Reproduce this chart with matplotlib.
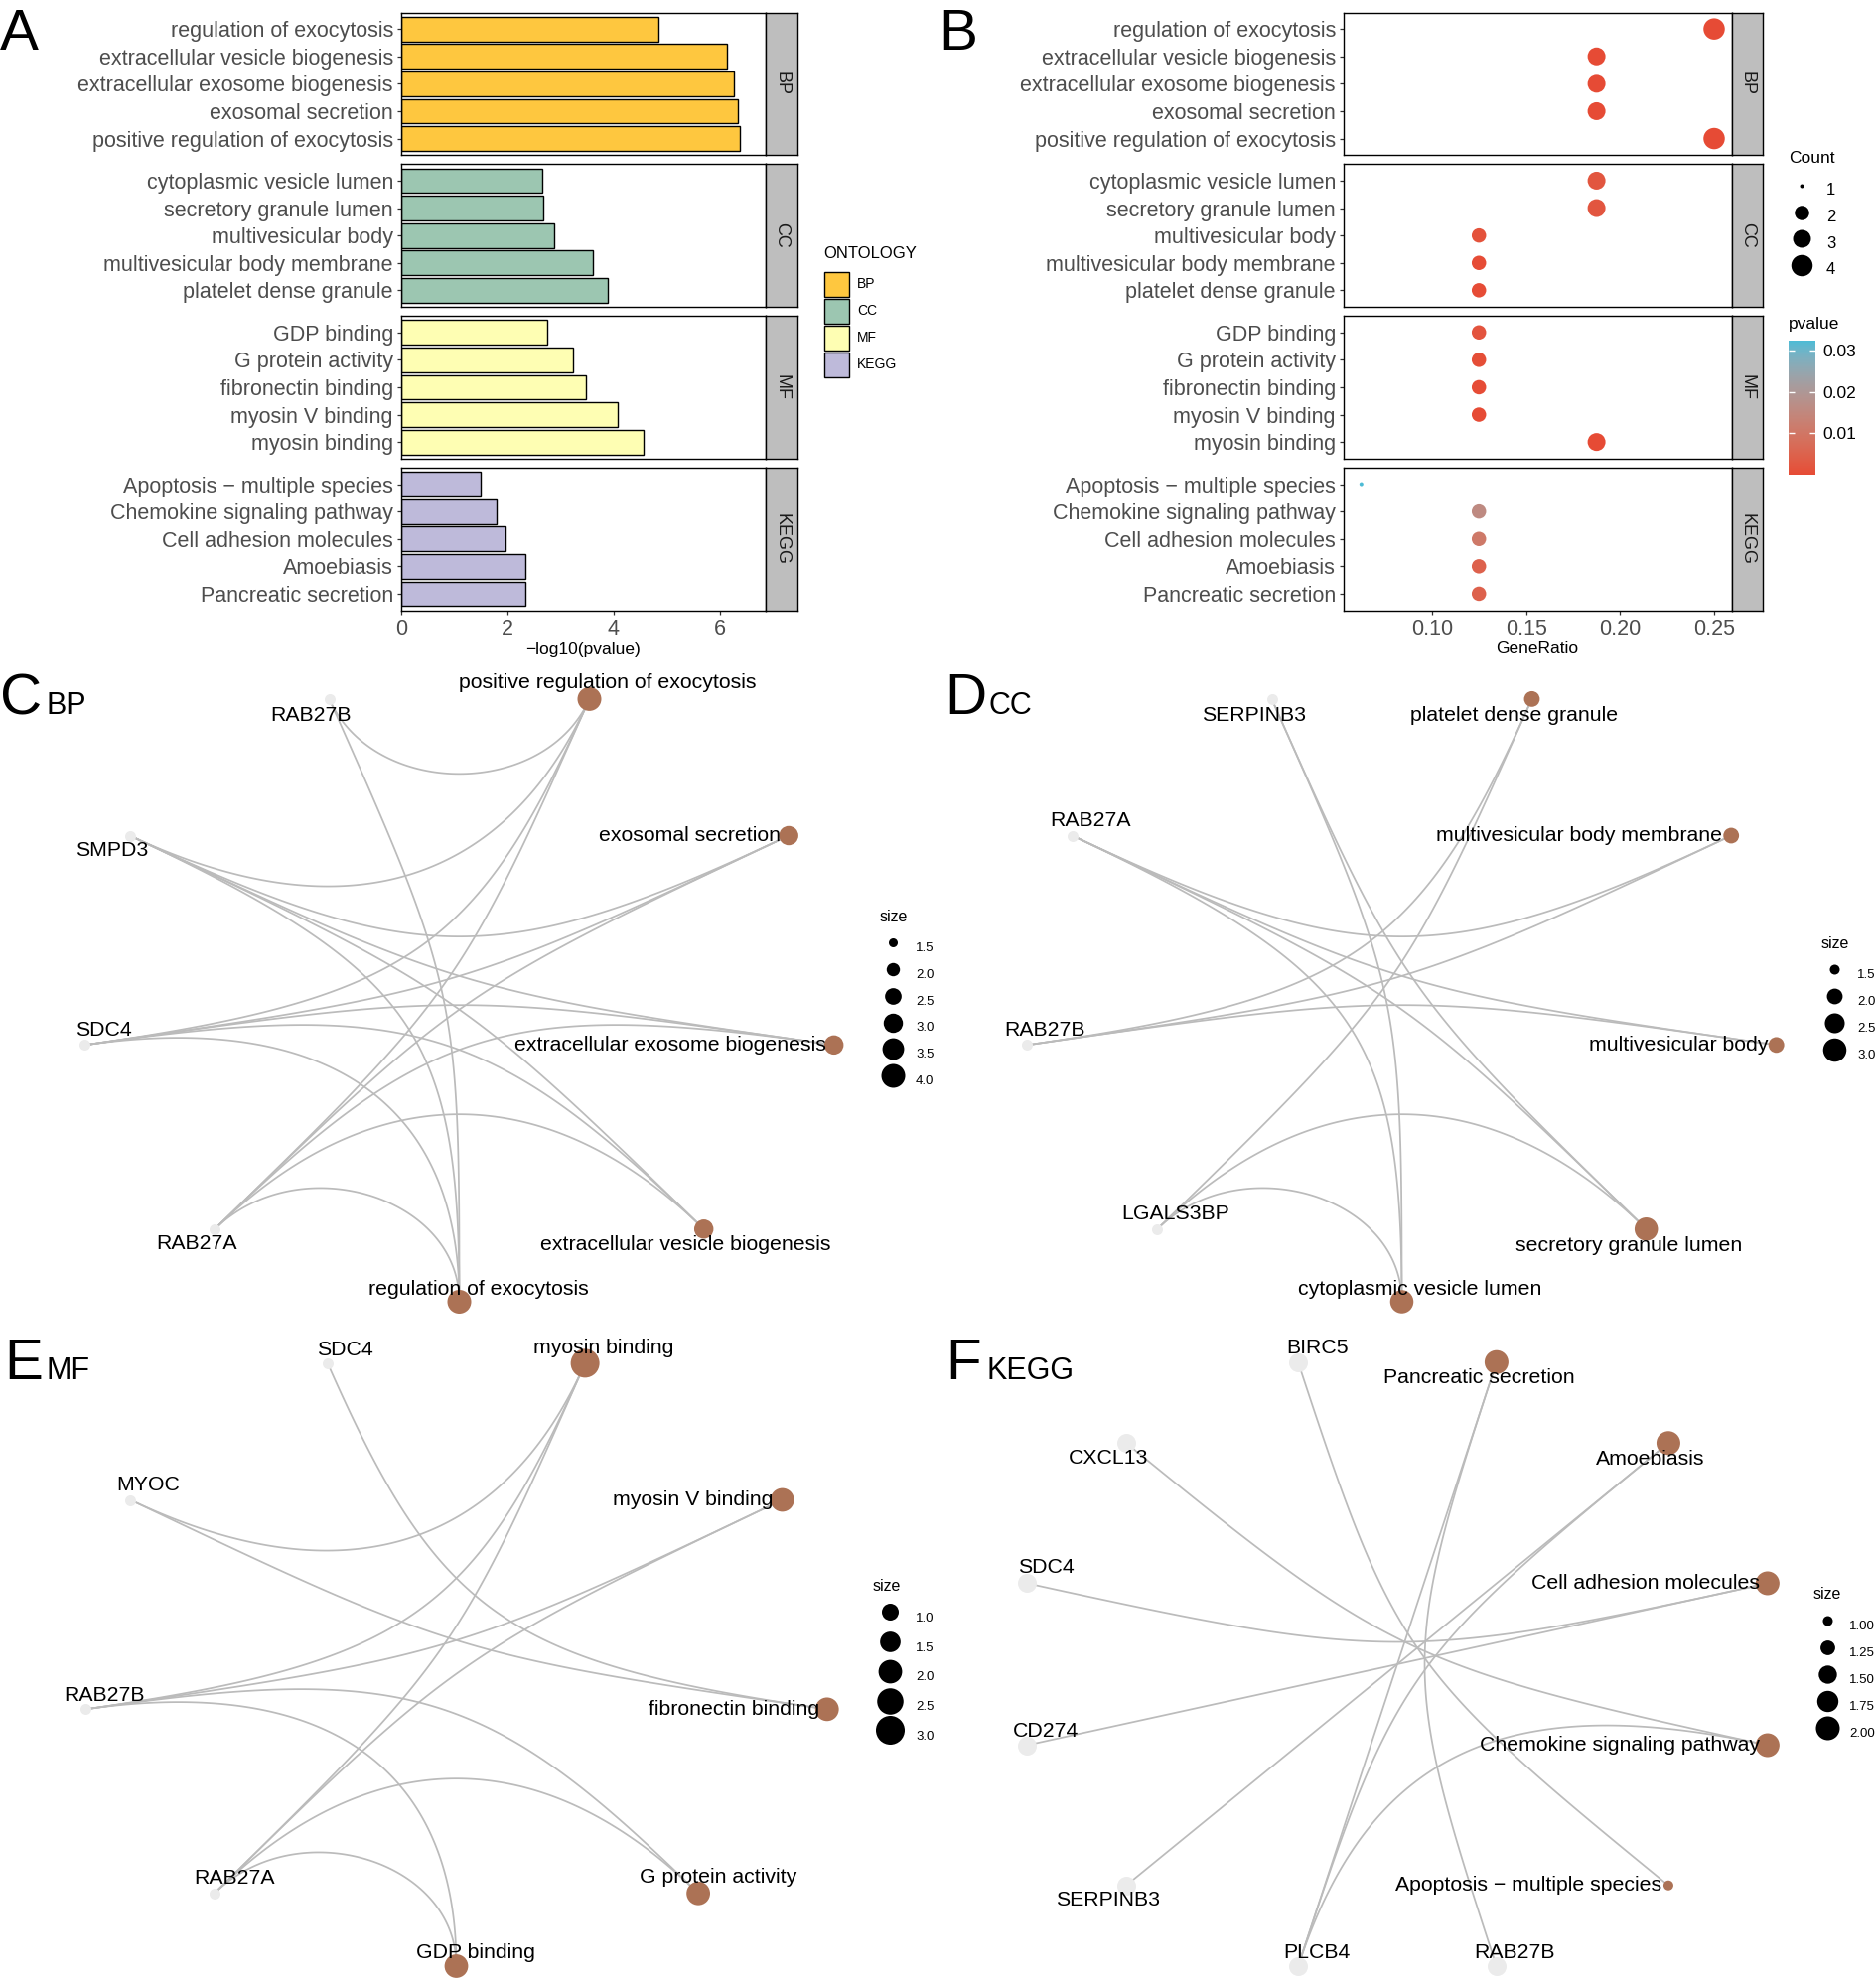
import numpy as np
import matplotlib
matplotlib.use("Agg")
import matplotlib.pyplot as plt
from matplotlib.patches import Patch
from matplotlib.lines import Line2D
from matplotlib.colors import ListedColormap, Normalize

plt.rcParams["font.family"] = ["Liberation Sans", "DejaVu Sans"]

# ============================ data ============================
ontologies = ["BP", "CC", "MF", "KEGG"]

bp_terms = ["regulation of exocytosis", "extracellular vesicle biogenesis",
            "extracellular exosome biogenesis", "exosomal secretion",
            "positive regulation of exocytosis"]
bp_neglog10p = [4.85, 6.14, 6.26, 6.33, 6.38]
bp_gene_ratio = [0.25, 0.1875, 0.1875, 0.1875, 0.25]
bp_count = [4, 3, 3, 3, 4]

cc_terms = ["cytoplasmic vesicle lumen", "secretory granule lumen", "multivesicular body",
            "multivesicular body membrane", "platelet dense granule"]
cc_neglog10p = [2.66, 2.68, 2.88, 3.61, 3.89]
cc_gene_ratio = [0.1875, 0.1875, 0.125, 0.125, 0.125]
cc_count = [3, 3, 2, 2, 2]

mf_terms = ["GDP binding", "G protein activity", "fibronectin binding",
            "myosin V binding", "myosin binding"]
mf_neglog10p = [2.75, 3.23, 3.48, 4.08, 4.56]
mf_gene_ratio = [0.125, 0.125, 0.125, 0.125, 0.1875]
mf_count = [2, 2, 2, 2, 3]

kegg_terms = ["Apoptosis \u2212 multiple species", "Chemokine signaling pathway",
              "Cell adhesion molecules", "Amoebiasis", "Pancreatic secretion"]
kegg_neglog10p = [1.49, 1.80, 1.97, 2.33, 2.33]
kegg_gene_ratio = [0.0625, 0.125, 0.125, 0.125, 0.125]
kegg_count = [1, 2, 2, 2, 2]

# gene-concept networks (circular order: terms, then genes)
bp_net_terms = ["positive regulation of exocytosis", "exosomal secretion",
                "extracellular exosome biogenesis", "extracellular vesicle biogenesis",
                "regulation of exocytosis"]
bp_net_genes = ["RAB27A", "SDC4", "SMPD3", "RAB27B"]
bp_net_links = {
    "RAB27A": ["positive regulation of exocytosis", "exosomal secretion",
               "extracellular exosome biogenesis", "extracellular vesicle biogenesis",
               "regulation of exocytosis"],
    "SDC4": ["positive regulation of exocytosis", "exosomal secretion",
             "extracellular exosome biogenesis", "extracellular vesicle biogenesis",
             "regulation of exocytosis"],
    "SMPD3": ["positive regulation of exocytosis", "exosomal secretion",
              "extracellular exosome biogenesis", "extracellular vesicle biogenesis",
              "regulation of exocytosis"],
    "RAB27B": ["positive regulation of exocytosis", "regulation of exocytosis"],
}
bp_size_breaks = [1.5, 2.0, 2.5, 3.0, 3.5, 4.0]

cc_net_terms = ["platelet dense granule", "multivesicular body membrane",
                "multivesicular body", "secretory granule lumen", "cytoplasmic vesicle lumen"]
cc_net_genes = ["LGALS3BP", "RAB27B", "RAB27A", "SERPINB3"]
cc_net_links = {
    "LGALS3BP": ["platelet dense granule", "secretory granule lumen", "cytoplasmic vesicle lumen"],
    "RAB27B": ["platelet dense granule", "multivesicular body membrane", "multivesicular body"],
    "RAB27A": ["multivesicular body membrane", "multivesicular body",
               "secretory granule lumen", "cytoplasmic vesicle lumen"],
    "SERPINB3": ["secretory granule lumen", "cytoplasmic vesicle lumen"],
}
cc_size_breaks = [1.5, 2.0, 2.5, 3.0]

mf_net_terms = ["myosin binding", "myosin V binding", "fibronectin binding",
                "G protein activity", "GDP binding"]
mf_net_genes = ["RAB27A", "RAB27B", "MYOC", "SDC4"]
mf_net_links = {
    "RAB27A": ["myosin binding", "myosin V binding", "G protein activity", "GDP binding"],
    "RAB27B": ["myosin binding", "myosin V binding", "G protein activity", "GDP binding"],
    "MYOC": ["myosin binding", "fibronectin binding"],
    "SDC4": ["fibronectin binding"],
}
mf_size_breaks = [1.0, 1.5, 2.0, 2.5, 3.0]

kegg_net_terms = ["Pancreatic secretion", "Amoebiasis", "Cell adhesion molecules",
                  "Chemokine signaling pathway", "Apoptosis \u2212 multiple species"]
kegg_net_genes = ["RAB27B", "PLCB4", "SERPINB3", "CD274", "SDC4", "CXCL13", "BIRC5"]
kegg_net_links = {
    "RAB27B": ["Pancreatic secretion"],
    "PLCB4": ["Pancreatic secretion", "Amoebiasis", "Chemokine signaling pathway"],
    "SERPINB3": ["Amoebiasis"],
    "CD274": ["Cell adhesion molecules"],
    "SDC4": ["Cell adhesion molecules"],
    "CXCL13": ["Chemokine signaling pathway"],
    "BIRC5": ["Apoptosis \u2212 multiple species"],
}
kegg_size_breaks = [1.00, 1.25, 1.50, 1.75, 2.00]

# ============================ style / layout ============================
W, H, DPI = 1890, 1993, 100
PT = 72.0 / DPI
ONT_COLORS = ["#FEC73F", "#9CC6B1", "#FEFEB3", "#BEBADA"]
STRIP_C = "#BEBEBE"
TICK_C = "#4D4D4D"
TERM_C = "#AC7255"
GENE_C = "#EBEBEB"
EDGE_C = "#BBBBBB"
P_LOW, P_HIGH = "#E64B35", "#4DBBD5"
FACET_Y = [(12.6, 156.1), (165.4, 308.9), (318.2, 461.7), (471.0, 614.5)]

fig = plt.figure(figsize=(W / DPI, H / DPI), dpi=DPI)


def add_ax(x0, y0, x1, y1):
    return fig.add_axes([x0 / W, 1 - y1 / H, (x1 - x0) / W, (y1 - y0) / H])


def fx(x):
    return x / W


def fy(y):
    return 1 - y / H


def hh_for(row_px, fs):
    """legend handleheight giving a handle box of row_px pixels"""
    return (row_px * PT / fs - 0.245) / 0.65


# ---- Lab interpolation for the p-value gradient ----
_M = np.array([[0.4124, 0.3576, 0.1805], [0.2126, 0.7152, 0.0722], [0.0193, 0.1192, 0.9505]])
_WHITE = np.array([0.95047, 1.0, 1.08883])


def _srgb_to_lab(rgb):
    c = np.asarray(rgb, float)
    lin = np.where(c <= 0.04045, c / 12.92, ((c + 0.055) / 1.055) ** 2.4)
    xyz = _M @ lin / _WHITE
    f = np.where(xyz > 0.008856, np.cbrt(xyz), 7.787 * xyz + 16 / 116)
    return np.array([116 * f[1] - 16, 500 * (f[0] - f[1]), 200 * (f[1] - f[2])])


def _lab_to_srgb(lab):
    L, a, b = lab
    fyv = (L + 16) / 116
    f = np.array([fyv + a / 500, fyv, fyv - b / 200])
    xyz = np.where(f ** 3 > 0.008856, f ** 3, (f - 16 / 116) / 7.787) * _WHITE
    lin = np.clip(np.linalg.inv(_M) @ xyz, 0, 1)
    return np.where(lin <= 0.0031308, 12.92 * lin, 1.055 * lin ** (1 / 2.4) - 0.055).clip(0, 1)


def _hex(h):
    return np.array([int(h[i:i + 2], 16) / 255 for i in (1, 3, 5)])


lab_lo, lab_hi = _srgb_to_lab(_hex(P_LOW)), _srgb_to_lab(_hex(P_HIGH))
pcmap = ListedColormap([_lab_to_srgb(lab_lo + (lab_hi - lab_lo) * t) for t in np.linspace(0, 1, 256)])

groups = [
    (bp_terms, bp_neglog10p, bp_gene_ratio, bp_count),
    (cc_terms, cc_neglog10p, cc_gene_ratio, cc_count),
    (mf_terms, mf_neglog10p, mf_gene_ratio, mf_count),
    (kegg_terms, kegg_neglog10p, kegg_gene_ratio, kegg_count),
]
all_p = np.concatenate([10 ** (-np.array(g[1])) for g in groups])
pnorm = Normalize(vmin=all_p.min(), vmax=all_p.max())

B_SIZE_PX = {1: 4.0, 2: 14.5, 3: 18.0, 4: 21.5}


def style_facet(ax, k, xticks, xticklabels, terms):
    ypos = np.arange(len(terms))
    ax.set_ylim(len(terms) - 0.4, -0.6)
    ax.set_yticks(ypos)
    ax.set_yticklabels(terms, fontsize=15.5, color=TICK_C)
    ax.tick_params(axis="both", length=2.6, width=0.9, color="#333333", pad=3.2)
    ax.set_xticks(xticks)
    if k == 3:
        ax.set_xticklabels(xticklabels, fontsize=15.5, color=TICK_C)
    else:
        ax.tick_params(axis="x", bottom=False, labelbottom=False)
    for s in ax.spines.values():
        s.set_linewidth(1.0)
        s.set_color("black")


def strip(x0, x1, k):
    y0, y1 = FACET_Y[k]
    sax = add_ax(x0, y0, x1, y1)
    sax.set_facecolor(STRIP_C)
    sax.set_xticks([])
    sax.set_yticks([])
    for s in sax.spines.values():
        s.set_linewidth(1.0)
        s.set_color("black")
    sax.text(0.5, 0.5, ontologies[k], rotation=-90, ha="center", va="center",
             fontsize=13, color="#1A1A1A", transform=sax.transAxes)


# ============================ panel A ============================
for k, (terms, nlp, gr, cnt) in enumerate(groups):
    y0, y1 = FACET_Y[k]
    ax = add_ax(404, y0, 771, y1)
    ax.barh(np.arange(len(terms)), nlp, height=0.9, color=ONT_COLORS[k],
            edgecolor="black", linewidth=1.0)
    ax.set_xlim(0, 6.86)
    style_facet(ax, k, [0, 2, 4, 6], ["0", "2", "4", "6"], terms)
    strip(771, 803, k)

fig.text(fx(587.5), fy(655), "\u2212log10(pvalue)", ha="center", va="center", fontsize=12.5)
fig.text(fx(829), fy(256), "ONTOLOGY", ha="left", va="center", fontsize=12)
fsA = 10
fig.legend([Patch(facecolor=c, edgecolor="black", linewidth=1.0) for c in ONT_COLORS], ontologies,
           loc="upper left", bbox_to_anchor=(fx(830), fy(273.6)), frameon=False, fontsize=fsA,
           handlelength=25 * PT / fsA, handleheight=hh_for(25, fsA), labelspacing=2 * PT / fsA,
           handletextpad=8 * PT / fsA, borderpad=0, borderaxespad=0)

# ============================ panel B ============================
for k, (terms, nlp, gr, cnt) in enumerate(groups):
    y0, y1 = FACET_Y[k]
    ax = add_ax(1353, y0, 1744, y1)
    pv = 10 ** (-np.array(nlp))
    ax.scatter(gr, np.arange(len(terms)), s=(np.array([B_SIZE_PX[c] for c in cnt]) * PT) ** 2,
               c=pv, cmap=pcmap, norm=pnorm, linewidths=0, zorder=3)
    ax.set_xlim(0.0531, 0.2595)
    style_facet(ax, k, [0.10, 0.15, 0.20, 0.25], ["0.10", "0.15", "0.20", "0.25"], terms)
    strip(1744, 1775, k)

fig.text(fx(1548), fy(653), "GeneRatio", ha="center", va="center", fontsize=12.5)
fig.text(fx(1801), fy(159), "Count", ha="left", va="center", fontsize=12.5)
cnt_levels = [1, 2, 3, 4]
fsB = 12
pitchB = 26.7
fig.legend([Line2D([], [], ls="none", marker="o", markersize=B_SIZE_PX[c] * PT,
                   markerfacecolor="black", markeredgewidth=0) for c in cnt_levels],
           [str(c) for c in cnt_levels], loc="upper left",
           bbox_to_anchor=(fx(1801), fy(189 - pitchB / 2 + 2)), frameon=False, fontsize=fsB,
           handlelength=26 * PT / fsB, handleheight=hh_for(pitchB, fsB), labelspacing=0,
           handletextpad=12 * PT / fsB, borderpad=0, borderaxespad=0)

fig.text(fx(1801), fy(326), "pvalue", ha="left", va="center", fontsize=12.5)
cax = add_ax(1801, 343, 1828, 478)
sm = plt.cm.ScalarMappable(norm=pnorm, cmap=pcmap)
cb = fig.colorbar(sm, cax=cax, ticks=[0.01, 0.02, 0.03])
cb.outline.set_visible(False)
cb.ax.set_yticklabels(["0.01", "0.02", "0.03"])
cax.tick_params(direction="in", color="white", length=4, width=1.0,
                labelsize=12.5, pad=5, left=True, right=True)

# ============================ networks ============================
NET_LAYOUT = {
    "BP": dict(center=(462.5, 998), radii=(383, 313), region=(0, 680, 880, 1325),
               size_d=(1.5, 4.0, 9.0, 24.0), gene_d=11,
               title=("C", 0, 719, "BP", 47),
               legend=dict(title=(886, 923), xdot=899, xlab=922, y0=952, pitch=26.8)),
    "CC": dict(center=(1411.5, 998), radii=(383, 313), region=(945, 680, 1830, 1325),
               size_d=(1.5, 3.0, 10.0, 23.5), gene_d=11,
               title=("D", 951, 719, "CC", 996),
               legend=dict(title=(1834, 950), xdot=1847, xlab=1870, y0=979, pitch=27.0)),
    "MF": dict(center=(459.5, 1667), radii=(379, 313), region=(0, 1345, 880, 1993),
               size_d=(1.0, 3.0, 17.0, 29.0), gene_d=11,
               title=("E", 4, 1389, "MF", 47),
               legend=dict(title=(879, 1597), xdot=896, xlab=922, y0=1627, pitch=29.7)),
    "KEGG": dict(center=(1407, 1676), radii=(386, 315), region=(945, 1345, 1830, 1993),
                 size_d=(1.0, 2.0, 10.0, 24.0), gene_d=19,
                 title=("F", 952, 1389, "KEGG", 994),
                 legend=dict(title=(1826, 1605), xdot=1840, xlab=1862, y0=1635, pitch=27.0)),
}

# label placement (ha, dx px, dy px) relative to node
NET_LABELS = {
    "BP": {"positive regulation of exocytosis": ("center", 18, -16),
           "exosomal secretion": ("right", -8, 0),
           "extracellular exosome biogenesis": ("right", -8, 0),
           "extracellular vesicle biogenesis": ("center", -18, 16),
           "regulation of exocytosis": ("center", 19, -13),
           "RAB27A": ("center", -18, 15), "SDC4": ("center", 19, -15),
           "SMPD3": ("center", -18, 15), "RAB27B": ("center", -19, 17)},
    "CC": {"platelet dense granule": ("center", -18, 17),
           "multivesicular body membrane": ("right", -9, 0),
           "multivesicular body": ("right", -8, 0),
           "secretory granule lumen": ("center", -18, 17),
           "cytoplasmic vesicle lumen": ("center", 18, -13),
           "LGALS3BP": ("center", 18, -15), "RAB27B": ("center", 18, -15),
           "RAB27A": ("center", 18, -15), "SERPINB3": ("center", -18, 17)},
    "MF": {"myosin binding": ("center", 19, -15),
           "myosin V binding": ("right", -9, 0),
           "fibronectin binding": ("right", -8, 0),
           "G protein activity": ("center", 20, -16),
           "GDP binding": ("center", 19, -14),
           "RAB27A": ("center", 20, -15), "RAB27B": ("center", 19, -14),
           "MYOC": ("center", 18, -15), "SDC4": ("center", 18, -13)},
    "KEGG": {"Pancreatic secretion": ("center", -18, 16),
             "Amoebiasis": ("center", -18, 16),
             "Cell adhesion molecules": ("right", -8, 0),
             "Chemokine signaling pathway": ("right", -8, 0),
             "Apoptosis \u2212 multiple species": ("right", -7, 0),
             "RAB27B": ("center", 18, -14), "PLCB4": ("center", 19, -14),
             "SERPINB3": ("center", -18, 15), "CD274": ("center", 19, -14),
             "SDC4": ("center", 19, -16), "CXCL13": ("center", -18, 15),
             "BIRC5": ("center", 19, -14)},
}

term_counts = {}
for terms, nlp, gr, cnt in groups:
    term_counts.update(dict(zip(terms, cnt)))


def draw_network(key, terms, genes, links, breaks, fmt):
    lay = NET_LAYOUT[key]
    cx, cy = lay["center"]
    rx, ry = lay["radii"]
    x0, y0, x1, y1 = lay["region"]
    ax = add_ax(x0, y0, x1, y1)
    ax.set_xlim((x0 - cx) / rx, (x1 - cx) / rx)
    ax.set_ylim((cy - y1) / ry, (cy - y0) / ry)
    ax.axis("off")
    nodes = terms + genes
    n = len(nodes)
    theta = (np.arange(n) + 0.5) * 2 * np.pi / n
    pos = {nm: np.array([np.sin(t), np.cos(t)]) for nm, t in zip(nodes, theta)}
    tt = np.linspace(0, 1, 120)[:, None]
    for g in genes:
        for t in links[g]:
            p0, p3 = pos[g], pos[t]
            a = 1 - np.linalg.norm(p3 - p0) / 2
            c1, c2 = p0 * a, p3 * a
            pts = ((1 - tt) ** 3) * p0 + 3 * ((1 - tt) ** 2) * tt * c1 + 3 * (1 - tt) * tt ** 2 * c2 + tt ** 3 * p3
            ax.plot(pts[:, 0], pts[:, 1], color=EDGE_C, lw=1.25, zorder=1, clip_on=False)
    vmin, vmax, dmin, dmax = lay["size_d"]

    def diam(v):
        return np.sqrt(dmin ** 2 + (dmax ** 2 - dmin ** 2) * (v - vmin) / (vmax - vmin))

    tpos = np.array([pos[t] for t in terms])
    ax.scatter(tpos[:, 0], tpos[:, 1], s=(np.array([diam(term_counts[t]) for t in terms]) * PT) ** 2,
               c=TERM_C, linewidths=0, zorder=2, clip_on=False)
    gpos = np.array([pos[g] for g in genes])
    ax.scatter(gpos[:, 0], gpos[:, 1], s=(lay["gene_d"] * PT) ** 2, c=GENE_C,
               linewidths=0, zorder=2, clip_on=False)
    for nm in nodes:
        ha, dx, dy = NET_LABELS[key][nm]
        ax.text(pos[nm][0] + dx / rx, pos[nm][1] - dy / ry, nm, ha=ha, va="center",
                fontsize=15.3, color="black", zorder=3, clip_on=False)
    # panel title
    letter, lx, ly, sub, sx = lay["title"]
    fig.text(fx(lx), fy(ly), letter, fontsize=42, ha="left", va="baseline")
    fig.text(fx(sx), fy(ly), sub, fontsize=22, ha="left", va="baseline")
    # size legend
    lg = lay["legend"]
    fig.text(fx(lg["title"][0]), fy(lg["title"][1]), "size", fontsize=11.5, ha="left", va="center")
    fs = 9.5
    hw = 26
    fig.legend([Line2D([], [], ls="none", marker="o", markersize=diam(v) * PT,
                       markerfacecolor="black", markeredgewidth=0) for v in breaks],
               [fmt.format(v) for v in breaks], loc="upper left",
               bbox_to_anchor=(fx(lg["xdot"] - hw / 2), fy(lg["y0"] - lg["pitch"] / 2 + 2)),
               frameon=False, fontsize=fs, handlelength=hw * PT / fs,
               handleheight=hh_for(lg["pitch"], fs), labelspacing=0,
               handletextpad=(lg["xlab"] - lg["xdot"] - hw / 2) * PT / fs,
               borderpad=0, borderaxespad=0)


draw_network("BP", bp_net_terms, bp_net_genes, bp_net_links, bp_size_breaks, "{:.1f}")
draw_network("CC", cc_net_terms, cc_net_genes, cc_net_links, cc_size_breaks, "{:.1f}")
draw_network("MF", mf_net_terms, mf_net_genes, mf_net_links, mf_size_breaks, "{:.1f}")
draw_network("KEGG", kegg_net_terms, kegg_net_genes, kegg_net_links, kegg_size_breaks, "{:.2f}")

fig.text(fx(0), fy(50), "A", fontsize=42, ha="left", va="baseline")
fig.text(fx(945), fy(50), "B", fontsize=42, ha="left", va="baseline")

fig.savefig("out.png", dpi=DPI)
